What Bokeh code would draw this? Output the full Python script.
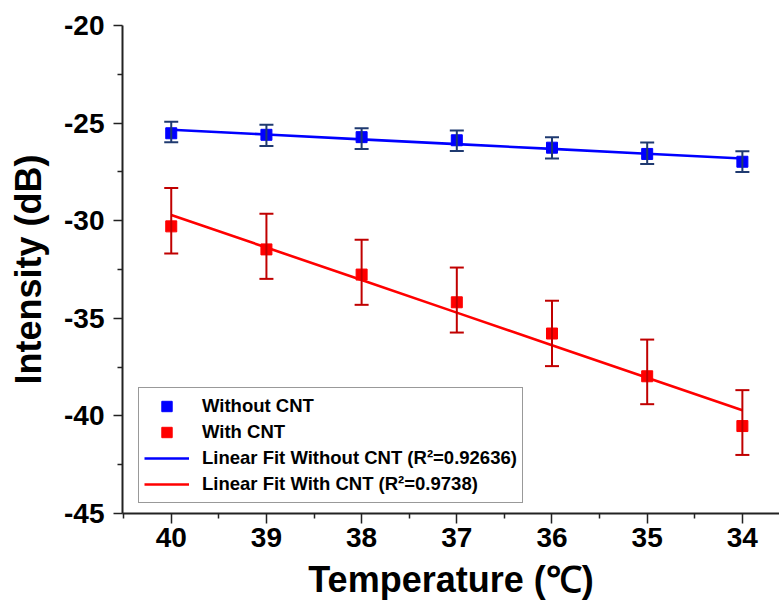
import numpy as np
from bokeh.plotting import figure
from bokeh.models import (ColumnDataSource, Whisker, TeeHead, FixedTicker, Range1d,
                          Legend, LegendItem, PrintfTickFormatter)
from bokeh.embed import file_html
from bokeh.resources import INLINE

# ---------------- data ----------------
temperature = [40, 39, 38, 37, 36, 35, 34]

without_cnt = [-25.52, -25.60, -25.72, -25.88, -26.26, -26.58, -26.98]
without_cnt_upper = [-24.93, -25.09, -25.26, -25.38, -25.72, -25.99, -26.44]
without_cnt_lower = [-25.98, -26.17, -26.33, -26.43, -26.81, -27.10, -27.50]

with_cnt = [-30.29, -31.47, -32.76, -34.18, -35.78, -37.97, -40.52]
with_cnt_upper = [-28.32, -29.64, -30.98, -32.40, -34.10, -36.09, -38.68]
with_cnt_lower = [-31.68, -32.98, -34.31, -35.73, -37.45, -39.40, -42.00]

x_ticks = [40, 39, 38, 37, 36, 35, 34]
x_minor = [40.5, 39.5, 38.5, 37.5, 36.5, 35.5, 34.5]
y_ticks = [-45, -40, -35, -30, -25, -20]
y_minor = [-42.5, -37.5, -32.5, -27.5, -22.5]

r2_without = "0.92636"
r2_with = "0.9738"

# linear fits of the two series
fit_wo = np.polyval(np.polyfit(temperature, without_cnt, 1), temperature)
fit_w = np.polyval(np.polyfit(temperature, with_cnt, 1), temperature)

src_wo = ColumnDataSource(dict(x=temperature, y=without_cnt, hi=without_cnt_upper,
                               lo=without_cnt_lower, fit=fit_wo))
src_w = ColumnDataSource(dict(x=temperature, y=with_cnt, hi=with_cnt_upper,
                              lo=with_cnt_lower, fit=fit_w))

BLUE = "#0000FF"
RED = "#FF0000"
BLUE_ERR = "#1F3A70"
RED_ERR = "#C00000"
FONT = "Liberation Sans"

p = figure(width=779, height=608, output_backend="svg", toolbar_location=None,
           x_range=Range1d(40.512, 33.61), y_range=Range1d(-45, -20),
           min_border_left=122, min_border_right=0, min_border_top=25,
           min_border_bottom=95)
p.outline_line_color = None
p.grid.visible = False
p.background_fill_color = "white"
p.border_fill_color = "white"

# fit lines
l_wo = p.line("x", "fit", source=src_wo, line_color=BLUE, line_width=2.6)
l_w = p.line("x", "fit", source=src_w, line_color=RED, line_width=2.6)

# data points
s_wo = p.scatter("x", "y", source=src_wo, marker="square", size=11,
                 fill_color=BLUE, line_color=BLUE)
s_w = p.scatter("x", "y", source=src_w, marker="square", size=11,
                fill_color=RED, line_color=RED)

# error bars
for src, col in ((src_wo, BLUE_ERR), (src_w, RED_ERR)):
    w = Whisker(source=src, base="x", upper="hi", lower="lo", line_color=col,
                line_width=2, level="annotation",
                upper_head=TeeHead(size=14, line_color=col, line_width=2),
                lower_head=TeeHead(size=14, line_color=col, line_width=2))
    p.add_layout(w)

# axes
for ax in (p.xaxis[0], p.yaxis[0]):
    ax.axis_line_width = 2
    ax.axis_line_color = "#222222"
    ax.major_tick_line_color = "#222222"
    ax.minor_tick_line_color = "#222222"
    ax.major_tick_line_width = 1.5
    ax.minor_tick_line_width = 1.5
    ax.major_tick_in = 0
    ax.minor_tick_in = 0
    ax.major_label_text_font = FONT
    ax.major_label_text_font_style = "bold"
    ax.major_label_text_font_size = "28px"
    ax.major_label_text_color = "black"
    ax.axis_label_text_font = FONT
    ax.axis_label_text_font_style = "bold"
    ax.axis_label_text_font_size = "36px"
    ax.axis_label_text_color = "black"
    ax.formatter = PrintfTickFormatter(format="%d")

p.xaxis.ticker = FixedTicker(ticks=x_ticks, minor_ticks=x_minor)
p.yaxis.ticker = FixedTicker(ticks=y_ticks, minor_ticks=y_minor)
p.xaxis.major_tick_out = 10
p.xaxis.minor_tick_out = 5
p.yaxis.major_tick_out = 9
p.yaxis.minor_tick_out = 5
p.xaxis.major_label_standoff = 4
p.yaxis.major_label_standoff = 9
p.xaxis.axis_label = "Temperature (℃)"
p.yaxis.axis_label = "Intensity (dB)"
p.xaxis.axis_label_standoff = 9
p.yaxis.axis_label_standoff = 12

legend = Legend(items=[
    LegendItem(label="Without CNT", renderers=[s_wo]),
    LegendItem(label="With CNT", renderers=[s_w]),
    LegendItem(label="Linear Fit Without CNT (R²=" + r2_without + ")", renderers=[l_wo]),
    LegendItem(label="Linear Fit With CNT (R²=" + r2_with + ")", renderers=[l_w]),
], location=(16, 10))
legend.label_text_font = FONT
legend.label_text_font_style = "bold"
legend.label_text_font_size = "18.5px"
legend.label_text_color = "black"
legend.glyph_width = 45
legend.glyph_height = 26
legend.label_height = 26
legend.spacing = 0
legend.padding = 5
legend.label_standoff = 13
legend.margin = 0
legend.border_line_color = "#333333"
legend.border_line_width = 1
legend.background_fill_color = "white"
legend.background_fill_alpha = 1
p.add_layout(legend)

open("out.html", "w").write(file_html(p, INLINE))
